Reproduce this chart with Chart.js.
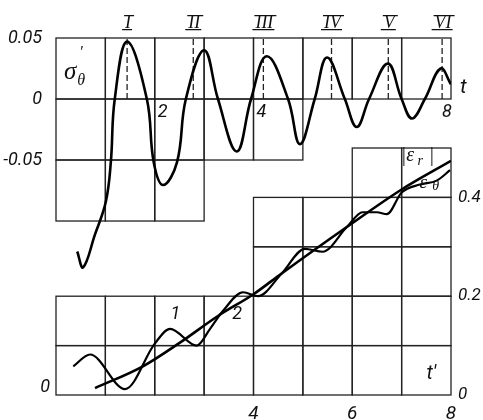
<!DOCTYPE html>
<html>
<head>
<meta charset="utf-8">
<script src="https://cdn.jsdelivr.net/npm/chart.js@4.4.0/dist/chart.umd.min.js"></script>
<style>
  html, body { margin: 0; padding: 0; background: #fff; }
  #wrap { width: 483px; height: 420px; }
</style>
</head>
<body>
<div id="wrap"><canvas id="myChart" width="483" height="420"></canvas></div>
<script>
// top panel: sigma'_theta against t
var sigmaT = [0.43, 0.55, 0.79, 1.01, 1.11, 1.19, 1.44, 1.84, 1.98, 2.17, 2.45, 2.63, 3.00, 3.28, 3.66, 3.95, 4.27, 4.70, 4.94, 5.24, 5.49, 5.85, 6.09, 6.34, 6.72, 7.00, 7.21, 7.47, 7.79, 8.00];
var sigmaV = [-0.125, -0.138, -0.111, -0.084, -0.052, 0, 0.047, 0, -0.052, -0.0705, -0.052, 0, 0.040, 0, -0.043, 0, 0.035, 0, -0.037, 0, 0.034, 0, -0.023, 0, 0.029, 0, -0.016, 0, 0.025, 0.012];

// bottom panel: |eps_r| (smooth) and eps_theta (wavy) against t'
var epsRT = [0.79, 1.76, 2.51, 3.28, 4.00, 4.57, 5.89, 7.00, 8.00];
var epsRV = [0.014, 0.058, 0.106, 0.160, 0.204, 0.246, 0.340, 0.416, 0.474];
var epsThT = [0.35, 0.69, 1.40, 2.00, 2.31, 2.85, 3.12, 3.38, 3.79, 4.09, 4.57, 5.04, 5.40, 5.89, 6.21, 6.50, 6.70, 7.00, 7.37, 7.71, 7.98];
var epsThV = [0.058, 0.082, 0.012, 0.104, 0.134, 0.100, 0.134, 0.170, 0.208, 0.200, 0.246, 0.296, 0.290, 0.340, 0.370, 0.370, 0.366, 0.410, 0.426, 0.434, 0.455];

// dashed marks at the peaks I..VI
var peakT = [1.44, 2.78, 4.20, 5.58, 6.73, 7.82];
var peakLabels = ['I', 'II', 'III', 'IV', 'V', 'VI'];

// staircase grids, one entry per unit column of t
var topFloor = [-0.1, -0.1, -0.1, -0.05, -0.05, 0, 0, 0];
var botCeil = [0.2, 0.2, 0.2, 0.2, 0.4, 0.4, 0.5, 0.5];

var topTicks = [-0.05, 0, 0.05];
var botTicks = [0, 0.2, 0.4];
var xTicks = [4, 6, 8];
var topXMarks = [2, 4, 8];

var sans = "Roboto, 'Liberation Sans', sans-serif";
var serif = "'Liberation Serif', 'DejaVu Serif', serif";

function pts(xs, ys) {
    return xs.map(function (x, i) { return { x: x, y: ys[i] }; });
}

var peakPts = [];
peakT.forEach(function (t) {
    peakPts.push({ x: t, y: 0 }, { x: t, y: 0.05 }, { x: t, y: null });
});

var stairGrid = {
    id: 'stairGrid',
    beforeDatasetsDraw: function (chart) {
        var ctx = chart.ctx, x = chart.scales.x, yT = chart.scales.yTop, yB = chart.scales.yBot;
        ctx.save();
        ctx.strokeStyle = '#222';
        ctx.lineWidth = 1.3;
        for (var i = 0; i < 8; i++) {
            var x0 = x.getPixelForValue(i), x1 = x.getPixelForValue(i + 1);
            for (var v = 0.05; v > topFloor[i] + 0.001; v -= 0.05) {
                var a = yT.getPixelForValue(v), b = yT.getPixelForValue(v - 0.05);
                ctx.strokeRect(x0, a, x1 - x0, b - a);
            }
            for (var w = 0; w < botCeil[i] - 0.001; w += 0.1) {
                var c = yB.getPixelForValue(w), d = yB.getPixelForValue(w + 0.1);
                ctx.strokeRect(x0, d, x1 - x0, c - d);
            }
        }
        ctx.restore();
    },
    afterDraw: function (chart) {
        var ctx = chart.ctx, x = chart.scales.x, yT = chart.scales.yTop, yB = chart.scales.yBot;
        ctx.save();
        ctx.fillStyle = '#111';
        ctx.strokeStyle = '#111';
        ctx.textBaseline = 'middle';
        ctx.textAlign = 'center';

        // roman numerals with bars above and below
        ctx.font = 'italic 18px ' + serif;
        ctx.lineWidth = 1.3;
        peakLabels.forEach(function (s, i) {
            var px = x.getPixelForValue(peakT[i]) + 1, py = yT.getPixelForValue(0.063);
            ctx.fillText(s, px, py + 1);
            var hw = ctx.measureText(s).width / 2 + 2;
            ctx.beginPath();
            ctx.moveTo(px - hw + 1, py - 6.5); ctx.lineTo(px + hw + 1, py - 6.5);
            ctx.moveTo(px - hw - 1, py + 7.5); ctx.lineTo(px + hw - 1, py + 7.5);
            ctx.stroke();
        });

        ctx.font = 'italic 18px ' + sans;
        topXMarks.forEach(function (m) {
            ctx.fillText(String(m), x.getPixelForValue(m) + (m === 8 ? -4 : 8), yT.getPixelForValue(-0.011));
        });
        ctx.font = 'italic 21px ' + sans;
        ctx.fillText('t', x.getPixelForValue(8.25), yT.getPixelForValue(0.009));
        ctx.font = 'italic 18px ' + sans;
        ctx.fillText('1', x.getPixelForValue(2.42), yB.getPixelForValue(0.162));
        ctx.fillText('2', x.getPixelForValue(3.67), yB.getPixelForValue(0.162));
        ctx.fillText('0', x.getPixelForValue(-0.22), yB.getPixelForValue(0.016));
        ctx.font = 'italic 20px ' + sans;
        ctx.fillText('t\u2032', x.getPixelForValue(7.6), yB.getPixelForValue(0.042));

        // sigma'_theta
        ctx.textAlign = 'left';
        ctx.font = 'italic 25px ' + serif;
        ctx.fillText('\u03c3', x.getPixelForValue(0.16), yT.getPixelForValue(0.022));
        ctx.font = 'italic 16px ' + serif;
        ctx.fillText('\u2032', x.getPixelForValue(0.47), yT.getPixelForValue(0.038));
        ctx.fillText('\u03b8', x.getPixelForValue(0.43), yT.getPixelForValue(0.015));

        // |eps_r| and eps_theta
        ctx.font = 'italic 20px ' + serif;
        ctx.fillText('|\u03b5', x.getPixelForValue(6.98), yB.getPixelForValue(0.484));
        ctx.font = 'italic 14px ' + serif;
        ctx.fillText('r', x.getPixelForValue(7.32), yB.getPixelForValue(0.474));
        ctx.font = 'italic 20px ' + serif;
        ctx.fillText('|', x.getPixelForValue(7.55), yB.getPixelForValue(0.484));
        ctx.font = 'italic 19px ' + serif;
        ctx.fillText('\u03b5', x.getPixelForValue(7.36), yB.getPixelForValue(0.43));
        ctx.font = 'italic 14px ' + serif;
        ctx.fillText('\u03b8', x.getPixelForValue(7.62), yB.getPixelForValue(0.423));
        ctx.restore();
    }
};

var ctx = document.getElementById('myChart');
var myChart = new Chart(ctx, {
    type: 'line',
    data: {
        datasets: [
            { data: pts(sigmaT, sigmaV), yAxisID: 'yTop', borderColor: '#000', borderWidth: 2.6, tension: 0.4, pointRadius: 0 },
            { data: pts(epsRT, epsRV), yAxisID: 'yBot', borderColor: '#000', borderWidth: 2.6, cubicInterpolationMode: 'monotone', pointRadius: 0 },
            { data: pts(epsThT, epsThV), yAxisID: 'yBot', borderColor: '#000', borderWidth: 2.2, cubicInterpolationMode: 'monotone', pointRadius: 0 },
            { data: peakPts, yAxisID: 'yTop', borderColor: '#222', borderWidth: 1.3, borderDash: [6, 3], pointRadius: 0, spanGaps: false }
        ]
    },
    options: {
        responsive: false,
        animation: false,
        layout: { padding: { top: 38, left: 0, right: 0, bottom: 0 } },
        plugins: { legend: { display: false }, tooltip: { enabled: false } },
        scales: {
            x: {
                type: 'linear', min: 0, max: 8,
                grid: { display: false }, border: { display: false },
                afterBuildTicks: function (s) { s.ticks = xTicks.map(function (v) { return { value: v }; }); },
                afterFit: function (s) { s.height = 25; },
                ticks: { padding: 0, color: '#111', maxRotation: 0, font: { family: sans, size: 19, style: 'italic' } }
            },
            yTop: {
                type: 'linear', position: 'left', min: -0.2426, max: 0.05,
                grid: { display: false }, border: { display: false },
                afterBuildTicks: function (s) { s.ticks = topTicks.map(function (v) { return { value: v }; }); },
                afterFit: function (s) { s.width = 56; },
                ticks: {
                    padding: 6, color: '#111', font: { family: sans, size: 18, style: 'italic' },
                    callback: function (v) { return v === 0 ? '0' : (v > 0 ? '0.05' : '-0.05'); }
                }
            },
            yBot: {
                type: 'linear', position: 'right', min: 0, max: 0.7227,
                grid: { display: false }, border: { display: false },
                afterBuildTicks: function (s) { s.ticks = botTicks.map(function (v) { return { value: v }; }); },
                afterFit: function (s) { s.width = 32; },
                ticks: {
                    padding: -1, color: '#111', font: { family: sans, size: 17, style: 'italic' },
                    callback: function (v) { return v === 0 ? '0' : v.toFixed(1); }
                }
            }
        }
    },
    plugins: [stairGrid]
});
</script>
</body>
</html>
